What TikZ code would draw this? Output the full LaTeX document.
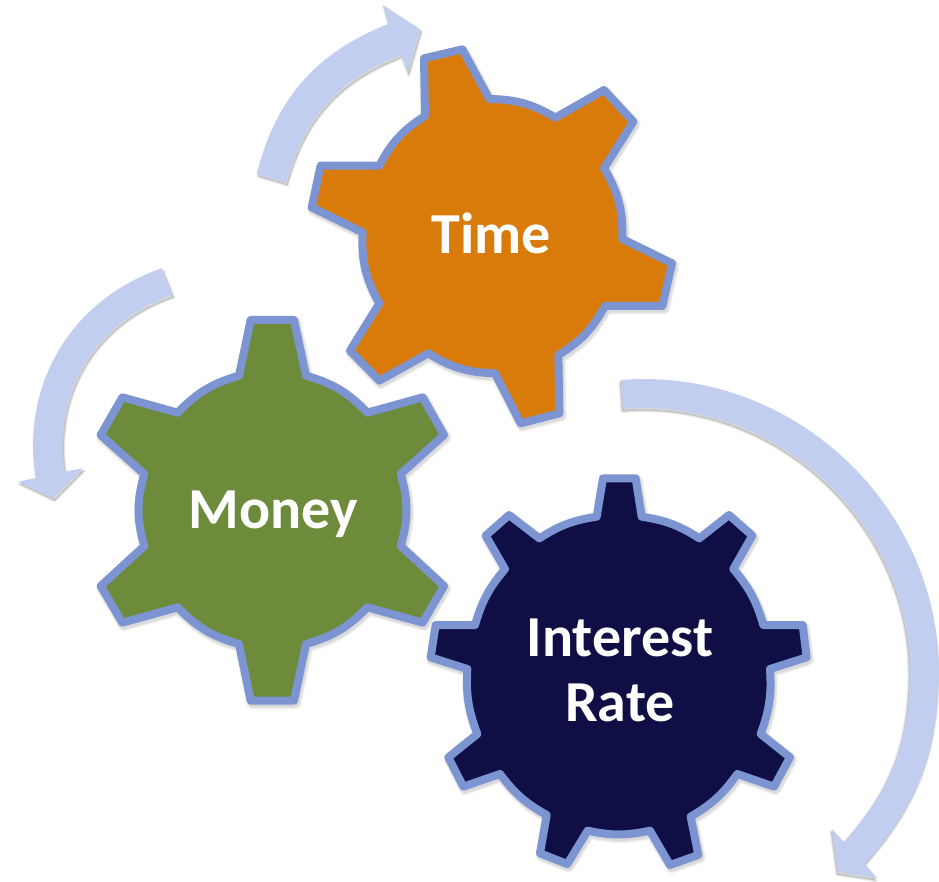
\documentclass[tikz,border=0pt]{standalone}
\usepackage{fontspec}
\setmainfont{Carlito}
\definecolor{ringblue}{HTML}{7C95D2}
\definecolor{arrowblue}{HTML}{C2CEF0}
\definecolor{timeorange}{HTML}{D97B0A}
\definecolor{moneygreen}{HTML}{6D8B3A}
\definecolor{ratenavy}{HTML}{0F0F45}
\tikzset{
  gearbody/.style={draw=ringblue,line width=8pt,line join=round},
  softshadow/.style={draw=black,fill=black,opacity=0.05,line join=round},
  sweep/.style={fill=arrowblue,draw=none},
  gearlabel/.style={text=white,font=\fontsize{58}{65}\selectfont\bfseries,anchor=base,inner sep=0pt},
  crop/.style={x=0.33333pt,y=-0.33333pt},
}
\def\timegear{(372,85) -- (487,58) -- (568,207) to[bend left=15] (766,263) -- (912,180) -- (1000,275) -- (912,415) to[bend left=16] (967,627) -- (1116,700) -- (1087,828) -- (915,828) to[bend left=15] (775,975) -- (778,1150) -- (662,1180) -- (585,1030) to[bend left=15] (385,970) -- (238,1052) -- (150,962) -- (238,820) to[bend left=16] (188,607) -- (35,532) -- (62,407) -- (238,407) to[bend left=15] (375,258) -- cycle}
\def\moneygear{(482,30) -- (612,30) -- (648,197) to[bend left=15] (832,308) -- (998,262) -- (1062,375) -- (932,492) to[bend left=16] (932,708) -- (1062,828) -- (998,938) -- (832,892) to[bend left=15] (648,1002) -- (612,1172) -- (482,1172) -- (447,1002) to[bend left=15] (263,892) -- (97,938) -- (32,828) -- (163,708) to[bend left=16] (163,492) -- (32,375) -- (97,262) -- (263,308) to[bend left=15] (447,197) -- cycle}
\def\rategear{(549,25) -- (647,25) -- (665,140) to[bend left=12] (838,205) -- (927,135) -- (997,197) -- (940,297) to[bend left=12] (1030,465) -- (1148,465) -- (1160,562) -- (1050,597) to[bend left=12] (1022,792) -- (1110,862) -- (1062,950) -- (952,912) to[bend left=12] (812,1040) -- (835,1155) -- (750,1185) -- (690,1082) to[bend left=12] (503,1082) -- (442,1182) -- (360,1150) -- (380,1035) to[bend left=12] (240,912) -- (130,950) -- (85,862) -- (172,792) to[bend left=12] (142,597) -- (32,562) -- (47,465) -- (165,465) to[bend left=12] (255,297) -- (197,197) -- (267,135) -- (358,205) to[bend left=12] (530,140) -- cycle}
\def\sweepone{(256.7,174) to[bend left=27] (388,24) -- (382.7,5) -- (420,29.3) -- (407.3,72.7) -- (401,55) to[bend right=27] (286,182.7) -- cycle}
\def\sweeptwo{(161.7,268.3) to[bend right=40] (35.7,478) -- (18.3,481.7) -- (53.3,498.3) -- (82.7,468.3) -- (64.3,471.7) to[bend left=40] (172.3,295) -- cycle}
\def\sweepthree{(621,380) to[bend left=47] (939,670) to[bend left=20.6] (865,864) -- (877,878) -- (838,872) -- (832,829) -- (844,842) to[bend right=20.6] (910,670) to[bend right=47] (623,409) -- cycle}
\begin{document}
\begin{tikzpicture}[x=1pt,y=-1pt]
\useasboundingbox (0,0) rectangle (939,882);
\foreach \w in {0.5,2,3.5}{
  \path[softshadow,line width=\w pt,xshift=1.5pt,yshift=-2.5pt] \sweepone;
  \path[softshadow,line width=\w pt,xshift=1.5pt,yshift=-2.5pt] \sweeptwo;
  \path[softshadow,line width=\w pt,xshift=-1pt,yshift=-2.5pt] \sweepthree;
}
\fill[sweep] \sweepone;
\fill[sweep] \sweeptwo;
\fill[sweep] \sweepthree;
\begin{scope}[crop,shift={(300pt,-30pt)}]
  \foreach \w in {8,10,12}{\draw[softshadow,fill=none,line width=\w pt,xshift=1.5pt,yshift=-2.5pt] \timegear;}
  \draw[gearbody,fill=timeorange] \timegear;
\end{scope}
\begin{scope}[crop,shift={(90pt,-310pt)}]
  \foreach \w in {8,10,12}{\draw[softshadow,fill=none,line width=\w pt,xshift=1.5pt,yshift=-2.5pt] \moneygear;}
  \draw[gearbody,fill=moneygreen] \moneygear;
\end{scope}
\begin{scope}[crop,shift={(420pt,-470pt)}]
  \foreach \w in {8,10,12}{\draw[softshadow,fill=none,line width=\w pt,xshift=1.5pt,yshift=-2.5pt] \rategear;}
  \draw[gearbody,fill=ratenavy] \rategear;
\end{scope}
\node[gearlabel] (time) at (491.5,253.5) {Time};
\node[gearlabel] (money) at (273.5,528) {Money};
\node[gearlabel] (interest) at (620,656.5) {Interest};
\node[gearlabel] (rate) at (620,721.5) {Rate};
\end{tikzpicture}
\end{document}
